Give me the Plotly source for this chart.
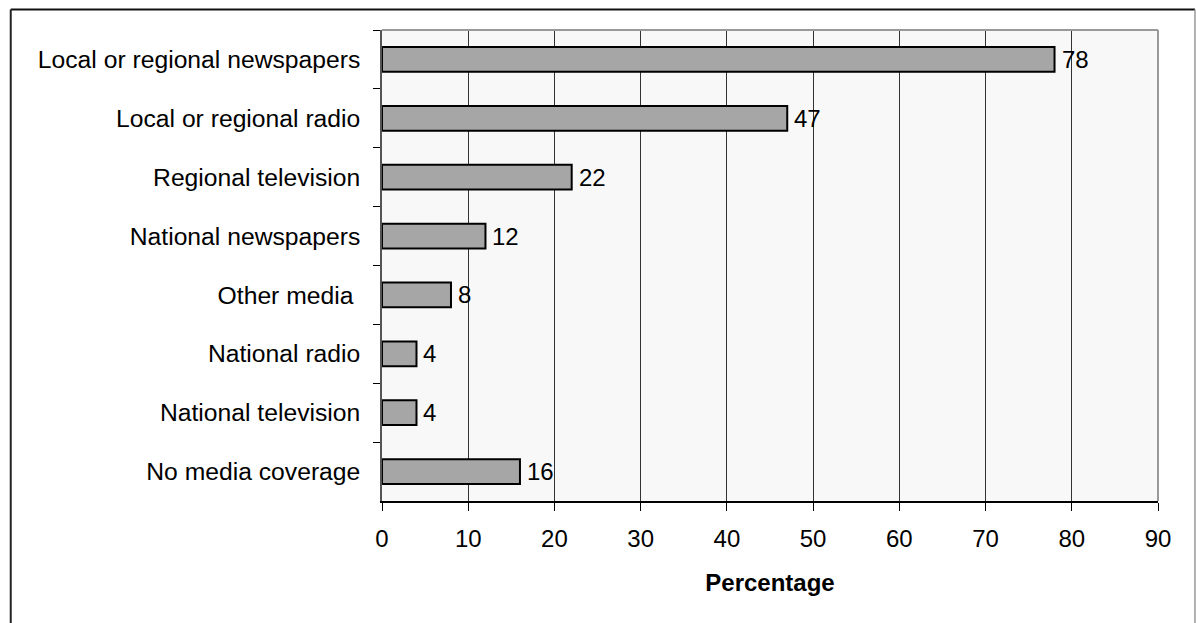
import plotly.graph_objects as go

categories = [
    "Local or regional newspapers",
    "Local or regional radio",
    "Regional television",
    "National newspapers",
    "Other media\u00a0",
    "National radio",
    "National television",
    "No media coverage",
]
values = [78, 47, 22, 12, 8, 4, 4, 16]
x_ticks = [0, 10, 20, 30, 40, 50, 60, 70, 80, 90]

FONT = "Liberation Sans, Arial, sans-serif"
FS = 24
W, H = 1196, 623
L, R, T, B = 381.5, 38, 29.5, 121.5
pw, ph = W - L - R, H - T - B


def px_x(p):
    return (p - L) / pw


def px_y(p):
    return 1 - (p - T) / ph


fig = go.Figure(
    go.Bar(
        x=values,
        y=categories,
        orientation="h",
        marker=dict(color="#a6a6a6", line=dict(color="#000000", width=2)),
        hoverinfo="skip",
    )
)

for c, v in zip(categories, values):
    fig.add_annotation(
        x=v, y=c, text=str(v), showarrow=False, xanchor="left",
        xshift=5, font=dict(family=FONT, size=FS, color="#000"),
    )

shapes = [
    # plot area frame (top and right)
    dict(type="line", xref="paper", yref="paper", x0=0, x1=1, y0=1, y1=1,
         line=dict(color="#999999", width=2), layer="above"),
    dict(type="line", xref="paper", yref="paper", x0=1, x1=1, y0=0, y1=1,
         line=dict(color="#999999", width=2), layer="above"),
    # outer chart frame
    dict(type="line", xref="paper", yref="paper", x0=px_x(10), x1=px_x(1195),
         y0=px_y(9), y1=px_y(9), line=dict(color="#111111", width=2)),
    dict(type="line", xref="paper", yref="paper", x0=px_x(10), x1=px_x(10),
         y0=px_y(9), y1=px_y(640), line=dict(color="#222222", width=2)),
    dict(type="line", xref="paper", yref="paper", x0=px_x(1195), x1=px_x(1195),
         y0=px_y(9), y1=px_y(640), line=dict(color="#999999", width=1.5)),
]

fig.update_layout(
    width=W, height=H,
    margin=dict(l=L, r=R, t=T, b=B, pad=0),
    paper_bgcolor="#ffffff",
    plot_bgcolor="#f8f8f8",
    bargap=0.58,
    showlegend=False,
    font=dict(family=FONT, size=FS, color="#000"),
    shapes=shapes,
    xaxis=dict(
        range=[0, 90], tickmode="array", tickvals=x_ticks,
        ticks="outside", ticklen=8, tickcolor="#000", tickwidth=1,
        showgrid=True, gridcolor="#333333", gridwidth=1,
        showline=True, linecolor="#000", linewidth=1.5,
        zeroline=False,
        tickfont=dict(family=FONT, size=FS),
        ticklabelstandoff=7,
        title=dict(text="<b>Percentage</b>", font=dict(family=FONT, size=FS), standoff=24),
    ),
    yaxis=dict(
        type="category", autorange="reversed", tickson="boundaries",
        ticks="outside", ticklen=7, tickcolor="#000", tickwidth=1,
        showgrid=False, showline=True, linecolor="#555555", linewidth=1.5,
        tickfont=dict(family=FONT, size=24.7),
        ticklabelstandoff=15,
    ),
)

fig.write_html("out.html")
